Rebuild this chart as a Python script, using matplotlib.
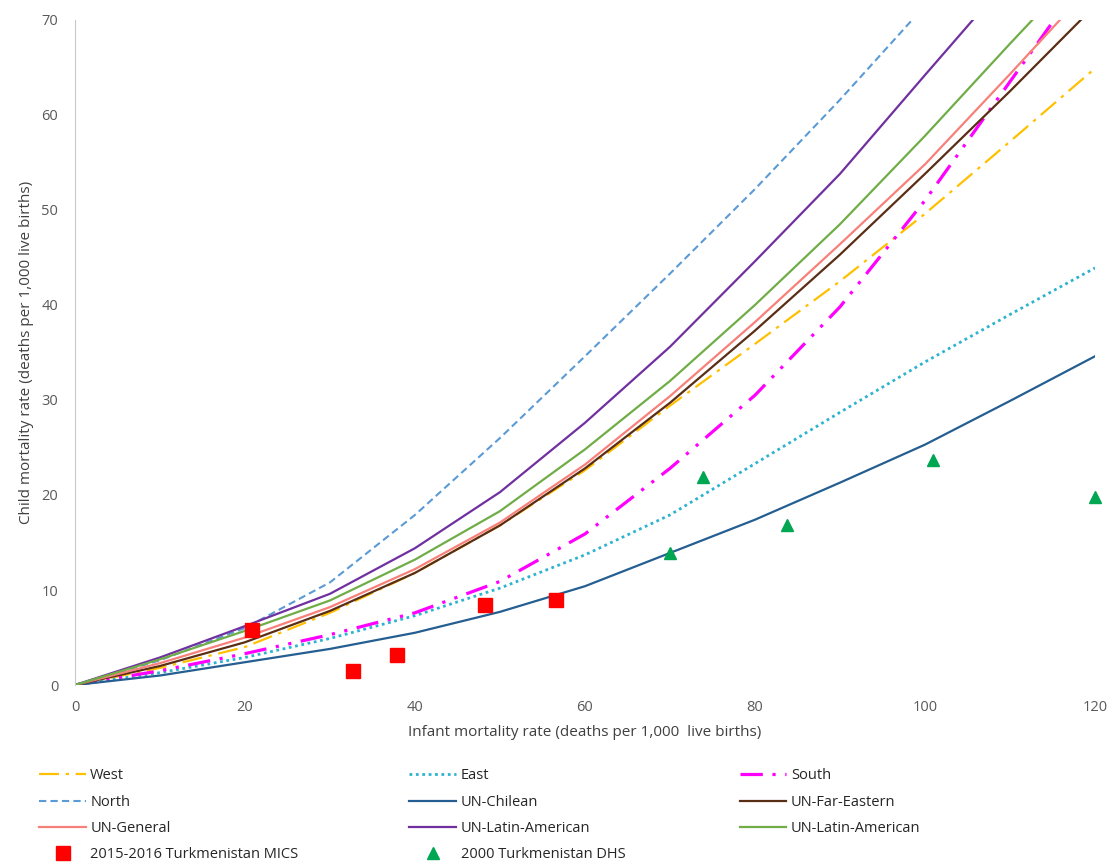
import matplotlib
matplotlib.use("Agg")
import matplotlib.pyplot as plt

# infant mortality grid (x) shared by all model curves
imr = [0, 10, 20, 30, 40, 50, 60, 70, 80, 90, 100, 110, 120]

west = [0, 1.8, 4.0, 7.6, 11.8, 16.8, 22.6, 29.4, 35.9, 42.5, 49.6, 57.2, 64.9]
east = [0, 1.3, 2.9, 4.9, 7.3, 10.2, 13.7, 17.9, 23.3, 28.7, 34.0, 39.0, 43.9]
south = [0, 1.5, 3.3, 5.3, 7.6, 10.9, 15.9, 22.8, 30.5, 39.8, 51.0, 63.5, 76.0]
north = [0, 2.6, 6.0, 10.8, 17.9, 26.0, 34.6, 43.3, 52.2, 61.6, 71.5, 81.5, 91.5]
un_chilean = [0, 1.0, 2.4, 3.8, 5.5, 7.7, 10.4, 13.9, 17.4, 21.3, 25.3, 29.9, 34.6]
un_far_eastern = [0, 2.0, 4.5, 7.8, 11.8, 16.8, 22.8, 29.7, 37.3, 45.3, 53.8, 62.5, 71.5]
un_general = [0, 2.3, 5.0, 8.2, 12.2, 17.1, 23.2, 30.4, 38.2, 46.4, 54.8, 64.3, 74.0]
un_latin_1 = [0, 2.9, 6.2, 9.6, 14.4, 20.3, 27.6, 35.6, 44.6, 53.8, 64.2, 74.5, 85.0]
un_latin_2 = [0, 2.7, 5.7, 8.9, 13.2, 18.3, 24.8, 32.0, 40.0, 48.5, 57.8, 67.5, 77.0]

# survey estimates
mics_imr = [20.8, 32.7, 37.9, 48.2, 56.6]
mics_cmr = [5.8, 1.5, 3.2, 8.4, 9.0]
dhs_imr = [70.0, 73.9, 83.8, 101.0, 120.0]
dhs_cmr = [13.9, 21.9, 16.8, 23.7, 19.8]

plt.rcParams['font.family'] = ['Open Sans', 'DejaVu Sans']

fig = plt.figure(figsize=(11.12, 8.67), dpi=100)
ax = fig.add_axes([0.0674, 0.2099, 0.9173, 0.7671])

ax.plot(imr, west, color='#FFC000', lw=1.6, dashes=(9, 3, 1.5, 3), label='West')
ax.plot(imr, east, color='#2EB3CF', lw=2.0, dashes=(1, 1.3), label='East')
ax.plot(imr, south, color='#FF00FF', lw=2.3, dashes=(7, 3, 1, 3, 1, 3), label='South')
ax.plot(imr, north, color='#5B9BD5', lw=1.5, dashes=(3.5, 2), label='North')
ax.plot(imr, un_chilean, color='#255E91', lw=1.6, label='UN-Chilean')
ax.plot(imr, un_far_eastern, color='#5A2D15', lw=1.6, label='UN-Far-Eastern')
ax.plot(imr, un_general, color='#F8807A', lw=1.6, label='UN-General')
ax.plot(imr, un_latin_1, color='#7030A0', lw=1.6, label='UN-Latin-American')
ax.plot(imr, un_latin_2, color='#70AD47', lw=1.6, label='UN-Latin-American')
ax.plot(mics_imr, mics_cmr, ls='none', marker='s', ms=10, color='#FF0000',
        label='2015-2016 Turkmenistan MICS', zorder=5)
ax.plot(dhs_imr, dhs_cmr, ls='none', marker='^', ms=9, color='#00A651',
        label='2000 Turkmenistan DHS', zorder=5, clip_on=False)

ax.set_xlim(0, 120)
ax.set_ylim(0, 70)
ax.set_xticks(range(0, 121, 20))
ax.set_yticks(range(0, 71, 10))
ax.tick_params(length=0, labelsize=10.5, labelcolor='#595959')
ax.tick_params(axis='y', pad=12)
ax.tick_params(axis='x', pad=11)
for side in ['top', 'right', 'bottom']:
    ax.spines[side].set_visible(False)
ax.spines['left'].set_color('#C8C8C8')

ax.set_xlabel('Infant mortality rate (deaths per 1,000  live births)', fontsize=11,
              color='#404040', labelpad=7)
ax.set_ylabel('Child mortality rate (deaths per 1,000 live births)', fontsize=11,
              color='#404040', labelpad=5)

# legend in three separate columns, as in the original
handles, labels = ax.get_legend_handles_labels()
cols = [[0, 3, 6, 9], [1, 4, 7, 10], [2, 5, 8]]
col_x = [0.030, 0.363, 0.660]
for idx, x0 in zip(cols, col_x):
    leg = fig.legend([handles[i] for i in idx], [labels[i] for i in idx],
                     loc='upper left', bbox_to_anchor=(x0, 0.1205),
                     bbox_transform=fig.transFigure, frameon=False,
                     fontsize=10.5, handlelength=3.2, handletextpad=0.3,
                     labelspacing=0.78, borderaxespad=0)
    for t in leg.get_texts():
        t.set_color('#262626')

fig.savefig('out.png', dpi=100)
